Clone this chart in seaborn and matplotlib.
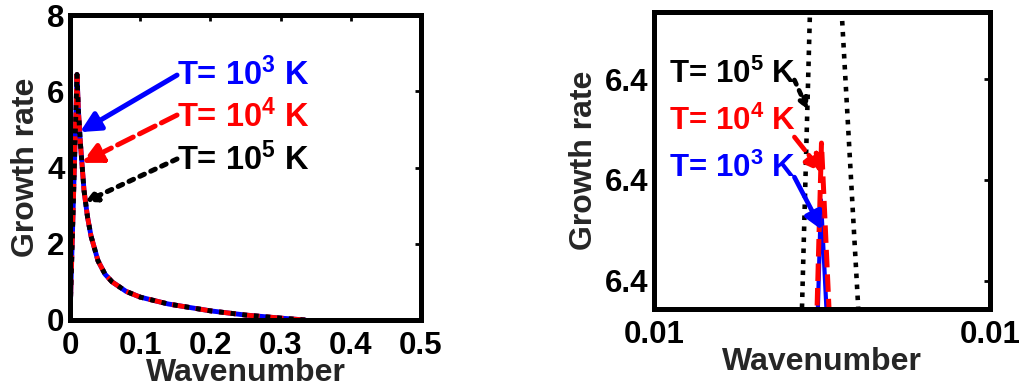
import matplotlib
matplotlib.use("Agg")
import matplotlib.pyplot as plt
import seaborn as sns

# Growth rate against wavenumber; the three temperatures coincide at this scale
wavenumber = [0, 0.01, 0.012, 0.015, 0.02, 0.025, 0.03, 0.04, 0.05, 0.06,
              0.08, 0.1, 0.14, 0.2, 0.25, 0.3, 0.335]
growth_1e3 = [0, 6.44, 5.5, 4.6, 3.4, 2.7, 2.2, 1.55, 1.2, 1.0,
              0.75, 0.6, 0.42, 0.24, 0.13, 0.05, 0.0]
growth_1e4 = list(growth_1e3)
growth_1e5 = list(growth_1e3)

# Close-up of the maximum for each temperature
k_peak_1e3 = [0.0099860, 0.0099970, 0.0100164]
gr_peak_1e3 = [6.438757, 6.439401, 6.438757]
k_peak_1e4 = [0.0099836, 0.0099985, 0.0100238]
gr_peak_1e4 = [6.438757, 6.439683, 6.438757]
k_peak_1e5 = [0.0099387, 0.0099949, 0.0101116]
gr_peak_1e5 = [6.438757, 6.442228, 6.438757]

labels = [r"T= 10$^{3}$ K", r"T= 10$^{4}$ K", r"T= 10$^{5}$ K"]
colors = ["#0000ff", "#ff0000", "#000000"]

left_xticks = [0, 0.1, 0.2, 0.3, 0.4, 0.5]
left_xticklabels = ["0", "0.1", "0.2", "0.3", "0.4", "0.5"]
left_yticks = [0, 2, 4, 6, 8]
right_xticks = [0.0095, 0.0105]
right_yticks = [6.4390, 6.4395, 6.4400]

sns.set_style("white")
plt.rcParams["font.family"] = ["Liberation Sans", "DejaVu Sans"]
plt.rcParams["font.weight"] = "bold"
plt.rcParams["axes.labelweight"] = "bold"
plt.rcParams["mathtext.fontset"] = "custom"
plt.rcParams["mathtext.rm"] = "Liberation Sans:bold"
plt.rcParams["mathtext.bf"] = "Liberation Sans:bold"
plt.rcParams["mathtext.default"] = "bf"

TICK_FS = 22.5
LABEL_FS = 23
NOTE_FS = 23.5
NOTE_FS_ZOOM = 22.5

fig = plt.figure(figsize=(10.23, 3.91), dpi=100)
ax1 = fig.add_axes([0.0684, 0.1816, 0.3431, 0.7800])
ax2 = fig.add_axes([0.6393, 0.2097, 0.3284, 0.7596])

solid = "-"
dashed = (0, (3.5, 1.4))
dotted = (0, (1.0, 1.4))

# ---- left panel: full curve ----
sns.lineplot(x=wavenumber, y=growth_1e3, ax=ax1, color=colors[0], lw=3.5,
             linestyle=solid, sort=False, estimator=None)
sns.lineplot(x=wavenumber, y=growth_1e4, ax=ax1, color=colors[1], lw=3.5,
             linestyle=dashed, sort=False, estimator=None)
sns.lineplot(x=wavenumber, y=growth_1e5, ax=ax1, color=colors[2], lw=3.5,
             linestyle=dotted, sort=False, estimator=None)

ax1.set_xlim(0, 0.5)
ax1.set_ylim(0, 8)
ax1.set_xticks(left_xticks)
ax1.set_xticklabels(left_xticklabels)
ax1.set_yticks(left_yticks)

# ---- right panel: around the maximum ----
sns.lineplot(x=k_peak_1e5, y=gr_peak_1e5, ax=ax2, color=colors[2], lw=3.3,
             linestyle=dotted, sort=False, estimator=None)
sns.lineplot(x=k_peak_1e3, y=gr_peak_1e3, ax=ax2, color=colors[0], lw=3,
             linestyle=solid, sort=False, estimator=None)
sns.lineplot(x=k_peak_1e4, y=gr_peak_1e4, ax=ax2, color=colors[1], lw=3.6,
             linestyle=dashed, sort=False, estimator=None)

ax2.set_xlim(right_xticks[0], right_xticks[-1])
ax2.set_ylim(6.438861, 6.440332)
ax2.set_xticks(right_xticks)
ax2.set_yticks(right_yticks)
ax2.xaxis.set_major_formatter(matplotlib.ticker.FormatStrFormatter("%.2f"))
ax2.yaxis.set_major_formatter(matplotlib.ticker.FormatStrFormatter("%.1f"))

for ax in (ax1, ax2):
    for sp in ax.spines.values():
        sp.set_visible(True)
        sp.set_linewidth(3.6)
        sp.set_color("black")
    ax.tick_params(direction="in", length=4, width=2, top=True, right=True,
                   labelsize=TICK_FS, colors="black")
    ax.tick_params(axis="x", pad=8)
    ax.tick_params(axis="y", pad=4)
    ax.set_xlabel("Wavenumber", fontsize=LABEL_FS, fontweight="bold",
                  labelpad=-2)
    ax.set_ylabel("Growth rate", fontsize=LABEL_FS, fontweight="bold",
                  labelpad=4)
    for lbl in ax.get_xticklabels() + ax.get_yticklabels():
        lbl.set_fontweight("bold")

# ---- annotations ----
styles = [solid, dashed, dotted]

left_text_y = [0.770, 0.633, 0.492]
left_start_y = [0.803, 0.672, 0.528]
left_tips = [(0.0285, 0.616), (0.0333, 0.515), (0.0427, 0.387)]
left_heads = [30, 30, 16]
for lab, col, ls, ty, sy, tip, hs in zip(labels, colors, styles, left_text_y,
                                          left_start_y, left_tips, left_heads):
    ax1.text(0.305, ty, lab, transform=ax1.transAxes, color=col,
             fontsize=NOTE_FS, fontweight="bold", ha="left", va="baseline")
    ax1.annotate("", xy=tip, xycoords="axes fraction", xytext=(0.305, sy),
                 textcoords="axes fraction",
                 arrowprops=dict(arrowstyle="-|>", color=col, lw=3.6,
                                 linestyle=ls, mutation_scale=hs,
                                 shrinkA=0, shrinkB=0))

right_order = [2, 1, 0]
right_text_y = [0.761, 0.603, 0.444]
right_start_y = [0.771, 0.579, 0.444]
right_tips = [(0.458, 0.670), (0.503, 0.458), (0.500, 0.266)]
for i, ty, sy, tip in zip(right_order, right_text_y, right_start_y, right_tips):
    ax2.text(0.045, ty, labels[i], transform=ax2.transAxes, color=colors[i],
             fontsize=NOTE_FS_ZOOM, fontweight="bold", ha="left", va="baseline")
    ax2.annotate("", xy=tip, xycoords="axes fraction", xytext=(0.418, sy),
                 textcoords="axes fraction",
                 arrowprops=dict(arrowstyle="-|>", color=colors[i], lw=3.4,
                                 linestyle=styles[i],
                                 mutation_scale=14 if i == 2 else 26,
                                 shrinkA=0, shrinkB=0))

fig.savefig("out.png", dpi=100, facecolor="white")
